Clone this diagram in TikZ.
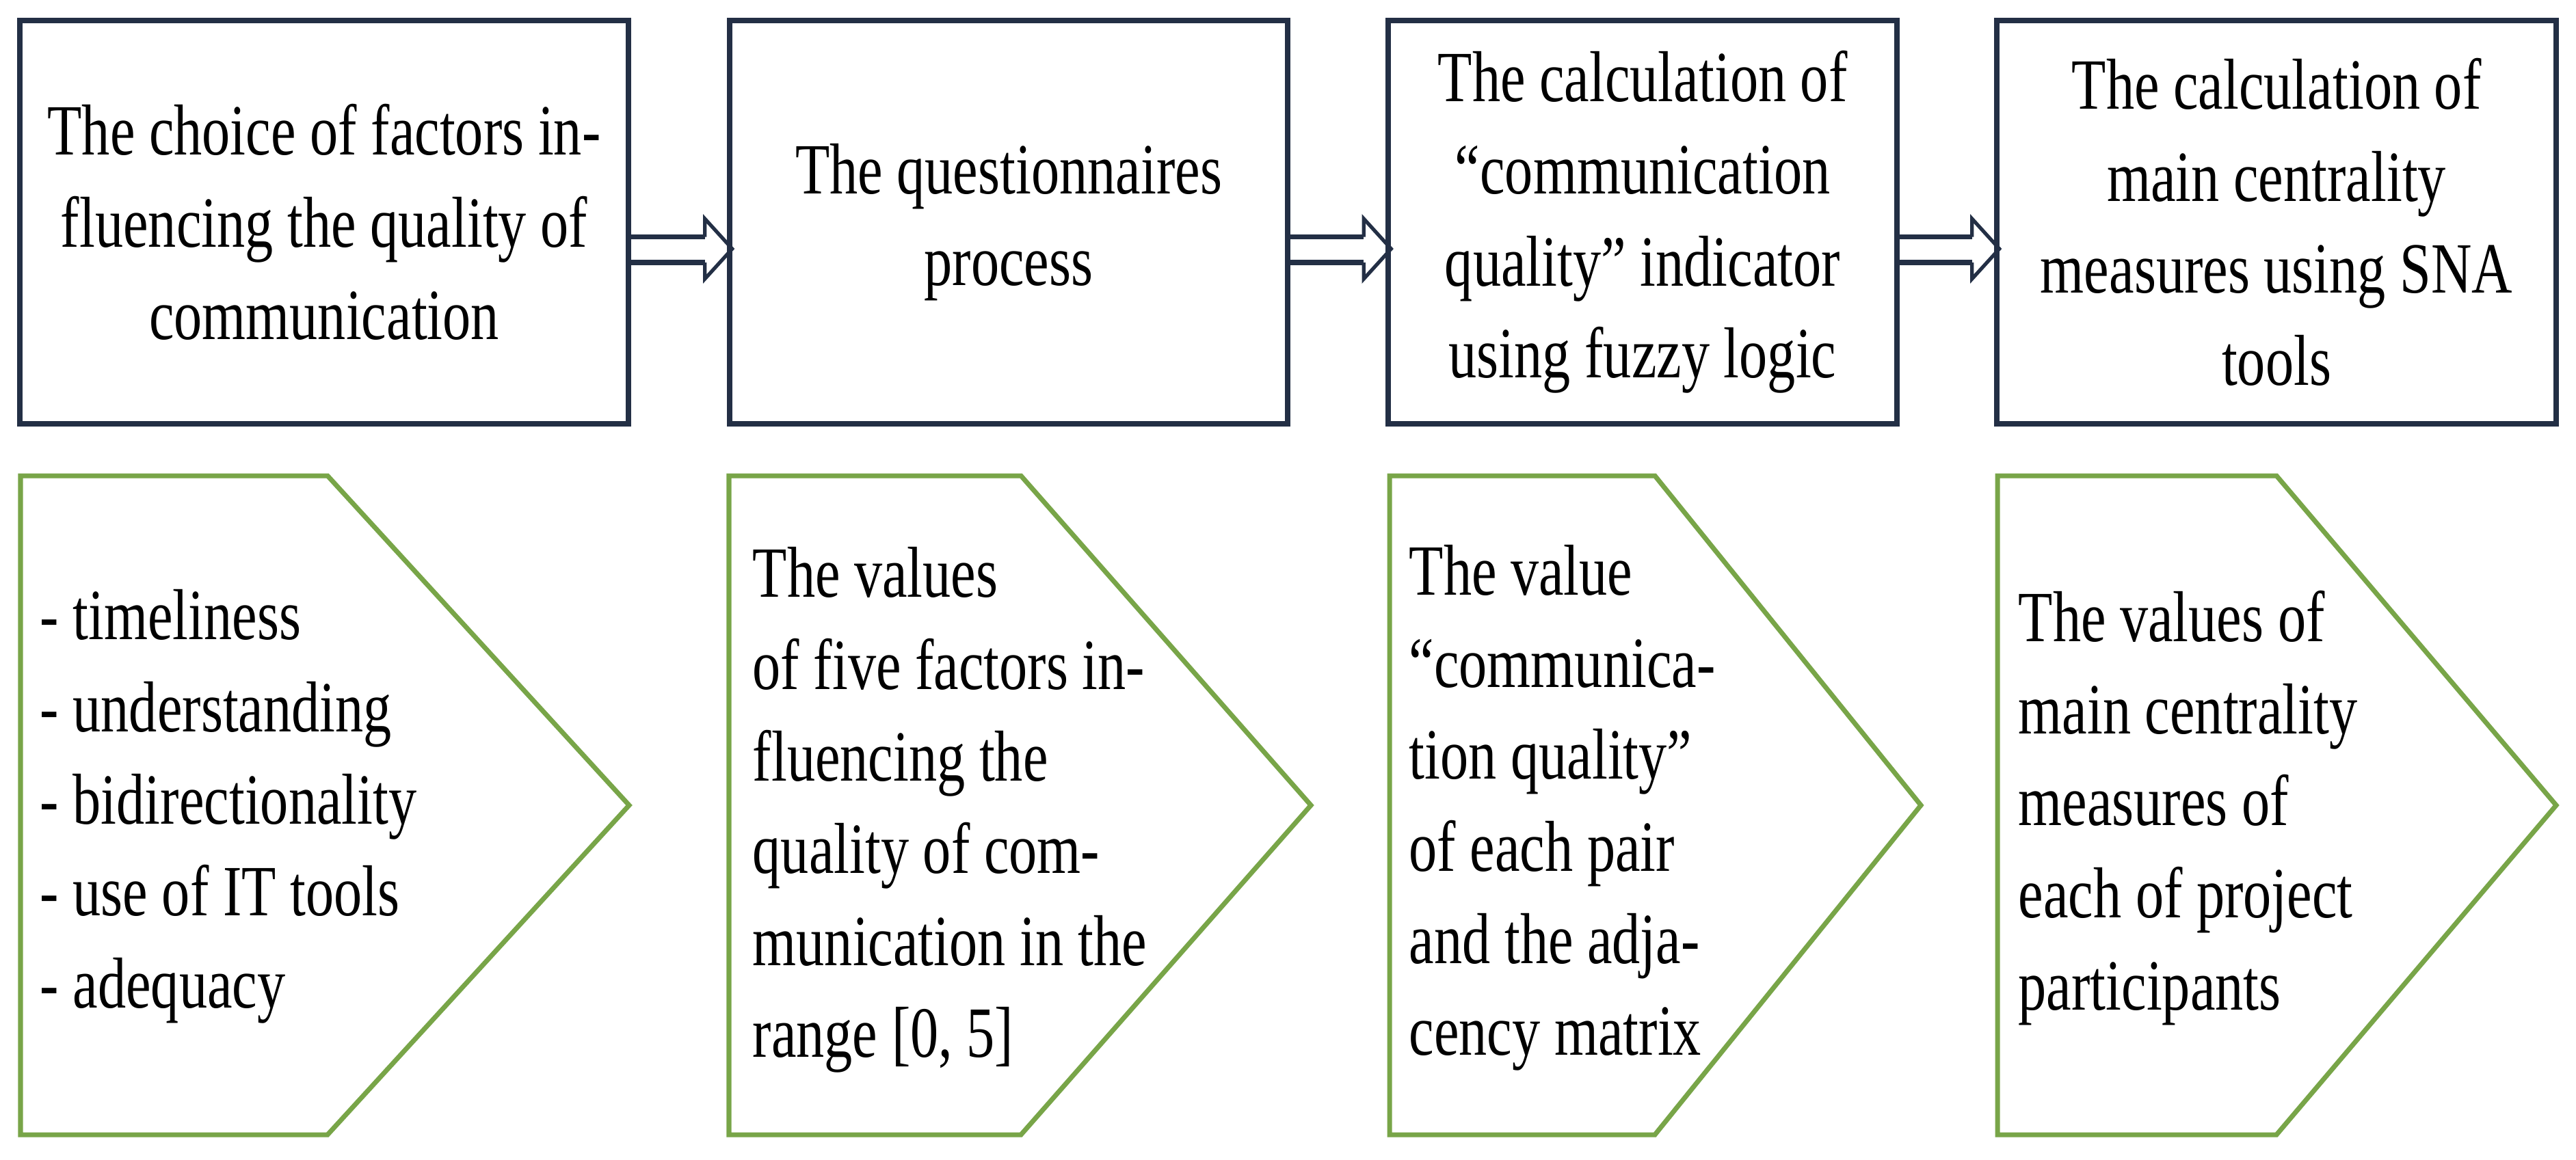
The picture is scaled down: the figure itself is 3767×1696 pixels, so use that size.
\documentclass[tikz,border=0pt]{standalone}
\usepackage{fontspec}
\setmainfont[FakeStretch=0.78]{Liberation Serif}
\usepackage{xcolor}
\usepackage{tikz}
\usetikzlibrary{calc}

\definecolor{navy}{RGB}{35,47,69}
\definecolor{leafgreen}{RGB}{120,165,72}

\tikzset{
  stagebox/.style={draw=navy,line width=2.3pt,outer sep=0pt,minimum height=5.9cm,align=center,font=\fontsize{30}{38.3}\selectfont},
  valueshape/.style={draw=leafgreen,line width=2pt,line join=miter},
  valuetext/.style={anchor=west,align=left,inner sep=0pt,font=\fontsize{30}{38.3}\selectfont},
  flowarrow/.style={draw=navy,line width=1.5pt,line join=miter},
  flowshaft/.style={draw=navy,line width=2.2pt}
}

\newcommand{\blockarrow}[2]{%
  \draw[flowshaft] ($(#1.east)+(0,21.5)$) -- ($(#2.west)+(-36,21.5)$);
  \draw[flowshaft] ($(#1.east)+(0,59)$) -- ($(#2.west)+(-36,59)$);
  \draw[flowarrow] ($(#2.west)+(-36,21.5)$) -- ($(#2.west)+(-36,-5)$)
    -- ($(#2.west)+(4,39)$) -- ($(#2.west)+(-36,83)$) -- ($(#2.west)+(-36,59)$);}

\begin{document}
\begin{tikzpicture}[x=0.01cm,y=-0.01cm]
\useasboundingbox (0,0) rectangle (3767,1696);
\node[stagebox,minimum width=8.9cm] (factors) at (474,325) {The choice of factors in-\\fluencing the quality of\\communication};
\node[stagebox,minimum width=8.16cm] (survey) at (1475,325) {The questionnaires\\process};
\node[stagebox,minimum width=7.43cm] (fuzzy) at (2402,325) {The calculation of\\“communication\\quality” indicator\\using fuzzy logic};
\node[stagebox,minimum width=8.18cm] (sna) at (3329,325) {The calculation of\\main centrality\\measures using SNA\\tools};
\blockarrow{factors}{survey}
\blockarrow{survey}{fuzzy}
\blockarrow{fuzzy}{sna}
\draw[valueshape] (30,696) -- (479,696) -- (920,1178) -- (479,1660) -- (30,1660) -- cycle;
\draw[valueshape] (1066,696) -- (1493,696) -- (1917,1178) -- (1493,1660) -- (1066,1660) -- cycle;
\draw[valueshape] (2032,696) -- (2420,696) -- (2809,1178) -- (2420,1660) -- (2032,1660) -- cycle;
\draw[valueshape] (2921,696) -- (3329,696) -- (3738,1178) -- (3329,1660) -- (2921,1660) -- cycle;
\node[valuetext] (factorlist) at (58,1180) {- timeliness\\- understanding\\- bidirectionality\\- use of IT tools\\- adequacy};
\node[valuetext] (rawvalues) at (1100,1185) {The values\\of five factors in-\\fluencing the\\quality of com-\\munication in the\\range [0, 5]};
\node[valuetext] (quality) at (2060,1182) {The value\\“communica-\\tion quality”\\of each pair\\and the adja-\\cency matrix};
\node[valuetext] (centrality) at (2951,1182) {The values of\\main centrality\\measures of\\each of project\\participants};
\end{tikzpicture}
\end{document}
